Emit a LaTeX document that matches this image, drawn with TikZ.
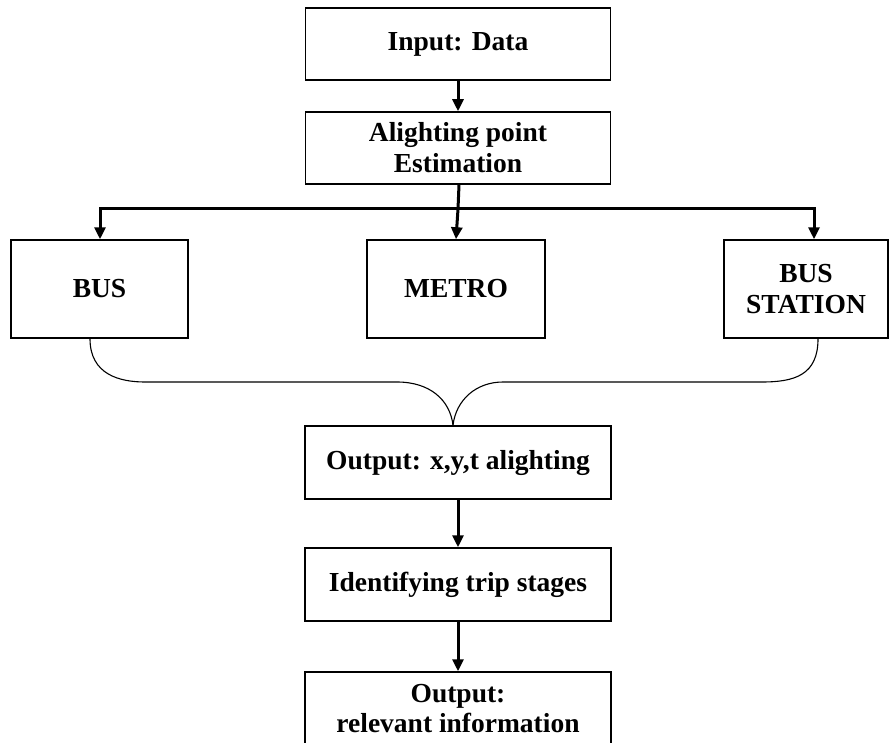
\documentclass[tikz,border=0pt]{standalone}
\usepackage{fontspec}
\setmainfont{Liberation Serif}
\usetikzlibrary{arrows.meta,calc}
\begin{document}
\begin{tikzpicture}[x=1pt,y=-1pt,
  box/.style={draw,line width=1.5pt,inner sep=0pt,align=center,
    font=\fontsize{27.5}{31}\selectfont\bfseries},
  flow/.style={line width=3pt,line join=miter,-{Triangle[length=12pt,width=11pt]}},
  trunk/.style={line width=3pt},
  brace/.style={line width=1.1pt}]
\useasboundingbox (0,0) rectangle (890,743);
\clip (0,0) rectangle (890,743);
\node[box,minimum width=305pt,minimum height=72pt] (inp) at (458,44) {Input: Data};
\node[box,minimum width=305pt,minimum height=72pt] (alight) at (458,148) {Alighting point\\Estimation};
\node[box,minimum width=177pt,minimum height=98pt] (bus) at (99.5,289) {BUS};
\node[box,minimum width=178pt,minimum height=98pt] (metro) at (456,289) {METRO};
\node[box,minimum width=164pt,minimum height=98pt] (station) at (806,289) {BUS\\STATION};
\node[box,minimum width=306pt,minimum height=73pt] (outxyt) at (458,462.5) {Output: x,y,t alighting};
\node[box,minimum width=306pt,minimum height=73pt] (ident) at (458,584.5) {Identifying trip stages};
\node[box,minimum width=306pt,minimum height=73pt,font=\fontsize{27.5}{30}\selectfont\bfseries] (outrel) at (458,708.5) {Output:\\relevant information};
\coordinate (split) at (458,209);
\coordinate (lft) at (100,209);
\coordinate (rgt) at (814,209);
% arrows
\draw[flow] (inp.south) -- (alight.north);
\draw[trunk] ([xshift=1pt]alight.south) -- (split);
\draw[flow] (split) -- (metro.north);
\draw[flow] (split) -- (lft) -- (lft |- bus.north);
\draw[flow] (split) -- (rgt) -- (rgt |- station.north);
% brace
\coordinate (tip) at ($(outxyt.north)+(-5,0)$);
\draw[brace] ($(bus.south)+(-9.5,0)$) .. controls +(0,36) and (120,382) .. (145,382)
  -- (397,382) .. controls (430,382) and (450,400) .. (tip);
\draw[brace] (tip) .. controls (456,400) and (476,382) .. (503,382)
  -- (762,382) .. controls (795,382) and ($(station.south)+(12,36)$) .. ($(station.south)+(12,0)$);
\draw[flow] (outxyt.south) -- (ident.north);
\draw[flow] (ident.south) -- (outrel.north);
\end{tikzpicture}
\end{document}
